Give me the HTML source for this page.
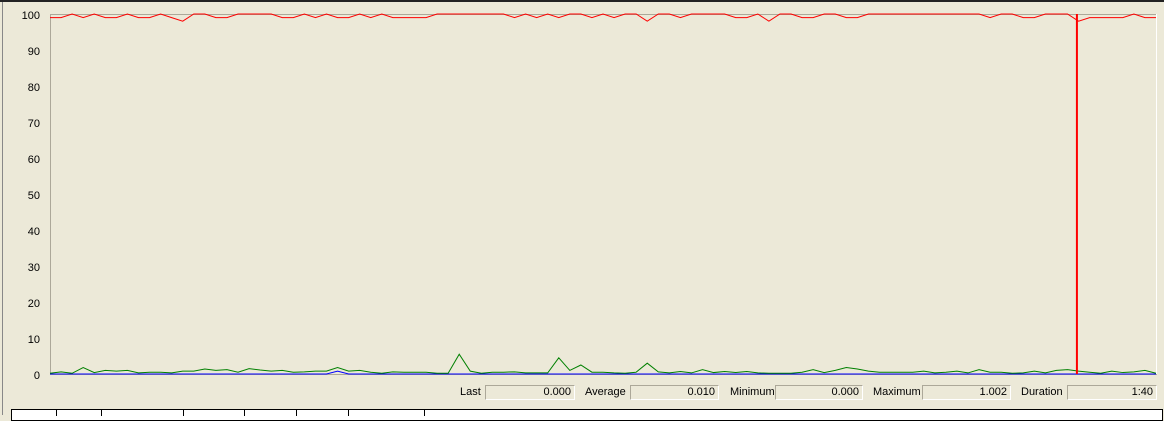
<!DOCTYPE html>
<html><head><meta charset="utf-8"><style>
body{margin:0;width:1164px;height:415px;overflow:hidden;background:#ece9d8;font-family:"Liberation Sans",sans-serif;font-size:11px;position:relative}
.lbl{position:absolute;top:386px;color:#000}
.box{position:absolute;top:385px;height:15px;border:1px solid #aca899;border-right-color:#fff;border-bottom-color:#fff;text-align:right;box-sizing:border-box;padding-right:3px;line-height:13px}
.col{position:absolute;top:410px;width:1px;height:6px;background:#000}
</style></head><body>
<div style="position:absolute;left:0;top:0;width:1164px;height:2px;background:#222"></div>
<div style="position:absolute;left:2px;top:2px;width:1px;height:413px;background:#888"></div>
<svg id="chart" width="1164" height="380" style="position:absolute;left:0;top:0"></svg>
<span class="lbl" style="left:460px">Last</span>
<div class="box" style="left:485px;width:90px">0.000</div>
<span class="lbl" style="left:585px">Average</span>
<div class="box" style="left:630px;width:89px">0.010</div>
<span class="lbl" style="left:730px">Minimum</span>
<div class="box" style="left:775px;width:88px">0.000</div>
<span class="lbl" style="left:873px">Maximum</span>
<div class="box" style="left:922px;width:89px">1.002</div>
<span class="lbl" style="left:1021px">Duration</span>
<div class="box" style="left:1067px;width:90px">1:40</div>
<div style="position:absolute;left:11px;top:409px;width:1150px;height:10px;border:1px solid #000;background:#fff"></div>
<div class="col" style="left:56px"></div>
<div class="col" style="left:101px"></div>
<div class="col" style="left:183px"></div>
<div class="col" style="left:244px"></div>
<div class="col" style="left:296px"></div>
<div class="col" style="left:348px"></div>
<div class="col" style="left:424px"></div>
<script>
const yTicks=[0,10,20,30,40,50,60,70,80,90,100];
const redSeries=[99,99,100,99,100,99,99,100,99,99,100,99,98,100,100,99,99,100,100,100,100,99,99,100,99,100,99,99,100,99,100,99,99,99,99,100,100,100,100,100,100,100,99,100,99,100,99,100,100,99,100,99,100,100,98,100,100,99,100,100,100,100,99,99,100,98,100,100,99,99,100,100,99,99,100,100,100,100,100,100,100,100,100,100,100,99,100,100,99,99,100,100,100,98,99,99,99,99,100,99,99];
const greenSeries=[0.2,0.6,0.2,1.8,0.4,1,0.8,1,0.3,0.5,0.5,0.3,0.8,0.8,1.4,1,1.2,0.5,1.5,1.1,0.8,1,0.5,0.6,0.8,0.8,1.8,0.8,1,0.5,0.2,0.6,0.5,0.5,0.5,0.2,0.2,5.5,0.8,0.2,0.5,0.5,0.6,0.3,0.3,0.3,4.5,1,2.5,0.5,0.5,0.3,0.2,0.5,3,0.6,0.3,0.7,0.3,1.2,0.4,0.7,0.4,0.7,0.3,0.2,0.2,0.2,0.5,1.2,0.4,1,1.8,1.4,0.8,0.5,0.5,0.5,0.5,0.8,0.3,0.5,0.8,0.3,1.2,0.5,0.5,0.2,0.3,0.8,0.3,1,1.2,0.8,0.5,0.2,0.8,0.4,0.6,1,0.2];
const blueSeries=[0,0,0,0,0,0,0,0,0,0,0,0,0,0,0,0,0,0,0,0,0,0,0,0,0,0,0.8,0,0,0,0,0,0,0,0,0,0,0,0,0,0,0,0,0,0,0,0,0,0,0,0,0,0,0,0,0,0,0,0,0,0,0,0,0,0,0,0,0,0,0,0,0,0,0,0,0,0,0,0,0,0,0,0,0,0,0,0,0,0,0,0,0,0,0,0,0,0,0,0,0,0];
const cursorIndex=92.85;
const L=50,R=1156,T=14,B=374;
const svg=document.getElementById('chart');const NS='http://www.w3.org/2000/svg';
const n=redSeries.length;
const xs=i=>L+(R-L)*i/(n-1);
const ys=v=>B-(B-T)*v/100;
function mk(t,a){const e=document.createElementNS(NS,t);for(const k in a)e.setAttribute(k,a[k]);svg.appendChild(e);return e;}
const frame=mk('rect',{x:L+0.5,y:T+0.5,width:R-L,height:B-T,fill:'none',stroke:'#aca899'});


const fr2=mk('line',{x1:R+0.5,y1:T,x2:R+0.5,y2:B,stroke:'#fff'});


yTicks.forEach(v=>{const t=mk('text',{x:L-10,y:ys(v)+5,'text-anchor':'end','font-size':11,'font-family':'Liberation Sans, sans-serif',fill:'#000'});t.textContent=v;

});
function line(arr,col,name){const p=mk('polyline',{points:arr.map((v,i)=>xs(i)+','+ys(v)).join(' '),fill:'none',stroke:col,'stroke-width':1});

}
line(blueSeries,'#0000ff','series-blue');
line(greenSeries,'#008000','series-green');
line(redSeries,'#ff0000','series-red');
const cx=xs(cursorIndex);
const c=mk('line',{x1:cx,y1:T,x2:cx,y2:B,stroke:'#ff0000','stroke-width':2});


</script>
</body></html>
